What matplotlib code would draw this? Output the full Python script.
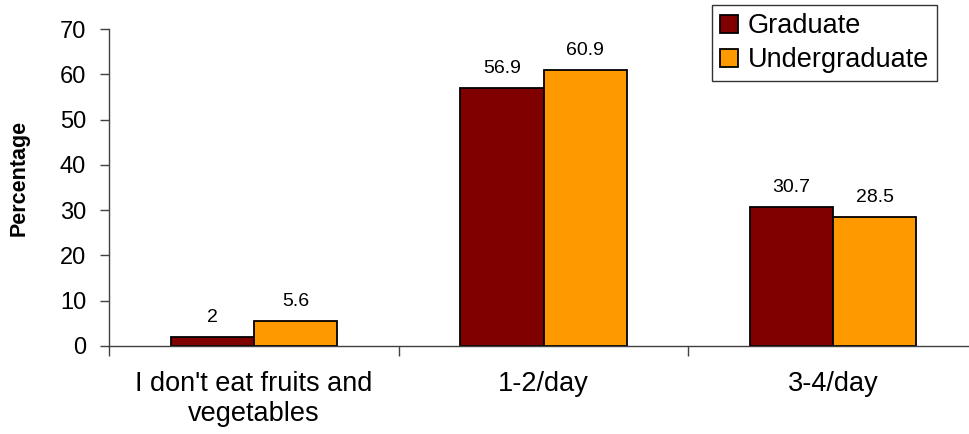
import numpy as np
import matplotlib
matplotlib.use("Agg")
import matplotlib.pyplot as plt
from matplotlib.ticker import FixedLocator

plt.rcParams["font.family"] = ["Liberation Sans", "DejaVu Sans"]

# ============================
# Data
# ============================
CATEGORIES = ["I don't eat fruits and\nvegetables", "1-2/day", "3-4/day"]
GRADUATE = [2, 56.9, 30.7]
UNDERGRADUATE = [5.6, 60.9, 28.5]
Y_TICKS = [0, 10, 20, 30, 40, 50, 60, 70]

GRAD_COLOR = "#800000"
UNDERGRAD_COLOR = "#FF9900"
AXIS_COLOR = "#404040"

W, H, DPI = 969, 434, 100
fig = plt.figure(figsize=(W / DPI, H / DPI), dpi=DPI)

# axes run a little past the right edge of the figure
left, right, top, bottom = 109, 978, 29, 346
ax = fig.add_axes([left / W, 1 - bottom / H, (right - left) / W, (bottom - top) / H])

x = np.arange(len(CATEGORIES))
bw = 0.287
b1 = ax.bar(x - bw / 2, GRADUATE, bw, color=GRAD_COLOR, edgecolor="black",
            linewidth=1.3, label="Graduate")
b2 = ax.bar(x + bw / 2, UNDERGRADUATE, bw, color=UNDERGRAD_COLOR, edgecolor="black",
            linewidth=1.3, label="Undergraduate")

for bars, vals in ((b1, GRADUATE), (b2, UNDERGRADUATE)):
    for rect, v in zip(bars, vals):
        ax.annotate(f"{v:g}", (rect.get_x() + rect.get_width() / 2, v),
                    xytext=(0, 8), textcoords="offset points",
                    ha="center", va="bottom", fontsize=14)

ax.set_xlim(-0.5, 2.5)
ax.set_ylim(0, 70)
ax.set_yticks(Y_TICKS)
ax.tick_params(axis="y", labelsize=17, length=6.5, width=1, color=AXIS_COLOR, pad=10)

ax.set_xticks(x)
ax.set_xticklabels(CATEGORIES, fontsize=19.5, linespacing=1.2)
ax.tick_params(axis="x", which="major", length=0, pad=18)
ax.xaxis.set_minor_locator(FixedLocator([-0.5, 0.5, 1.5, 2.5]))
ax.tick_params(axis="x", which="minor", length=7, width=1, color=AXIS_COLOR)

for s in ("top", "right"):
    ax.spines[s].set_visible(False)
for s in ("left", "bottom"):
    ax.spines[s].set_color(AXIS_COLOR)
    ax.spines[s].set_linewidth(1)

ax.set_ylabel("Percentage", fontsize=15.5, fontweight="bold")
ax.yaxis.set_label_coords(-(109 - 30) / (right - left), (346 - 178) / (bottom - top))

leg = ax.legend(loc="upper right",
                bbox_to_anchor=((937 - left) / (right - left), 1 + 24 / (bottom - top)),
                fontsize=19.5, frameon=True, fancybox=False, edgecolor="black",
                handlelength=0.65, handleheight=0.65, handletextpad=0.35,
                borderpad=0.3, labelspacing=0.3, borderaxespad=0)
leg.get_frame().set_linewidth(1)

fig.savefig("out.png", dpi=DPI)
